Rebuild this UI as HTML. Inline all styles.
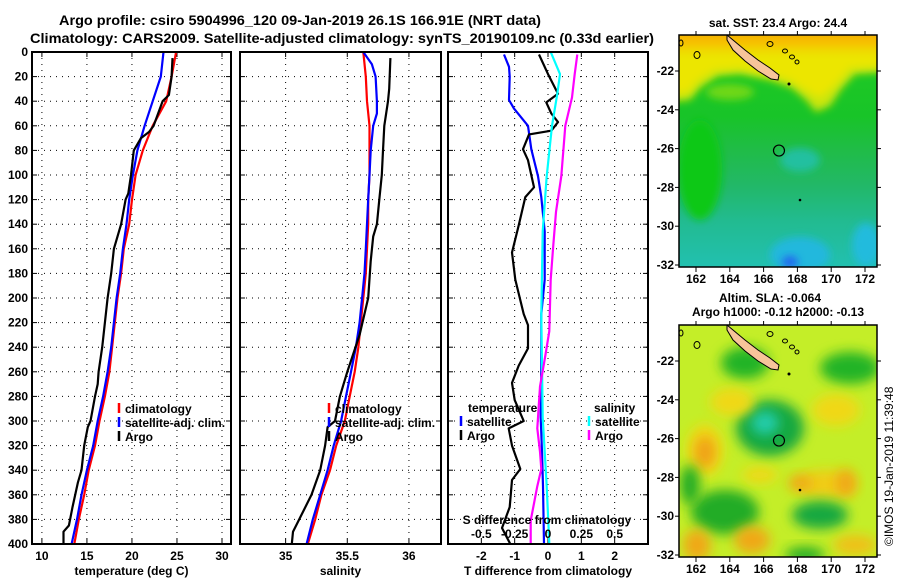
<!DOCTYPE html>
<html><head><meta charset="utf-8"><style>
html,body{margin:0;padding:0;background:#fff;}
svg{display:block;font-family:"Liberation Sans",sans-serif;}
.t{font-weight:bold;font-size:12px;fill:#000;}
</style></head><body>
<svg id="c" width="900" height="580" viewBox="0 0 900 580">
<defs>
<linearGradient id="sstg" x1="0" y1="0" x2="0" y2="1">
<stop offset="0" stop-color="#22cc22"/><stop offset="0.35" stop-color="#18c428"/>
<stop offset="0.5" stop-color="#20bc48"/><stop offset="0.65" stop-color="#22b868"/>
<stop offset="0.8" stop-color="#22bb90"/><stop offset="1" stop-color="#22c0b0"/>
</linearGradient>
<linearGradient id="orangeg" x1="0" y1="0" x2="0" y2="1">
<stop offset="0" stop-color="#f4a400"/><stop offset="0.5" stop-color="#f6c400"/>
<stop offset="1" stop-color="#ecdc00" stop-opacity="0"/>
</linearGradient>
<filter id="bl" x="-50%" y="-50%" width="200%" height="200%"><feGaussianBlur stdDeviation="6"/></filter>
<filter id="bl2" x="-50%" y="-50%" width="200%" height="200%"><feGaussianBlur stdDeviation="4"/></filter>
<clipPath id="m1c"><rect x="679" y="35" width="198" height="232"/></clipPath>
<clipPath id="m2c"><rect x="679" y="325" width="198" height="232"/></clipPath>
</defs>
<text x="300" y="25" text-anchor="middle" font-weight="bold" font-size="14" textLength="482" lengthAdjust="spacingAndGlyphs">Argo profile: csiro 5904996_120 09-Jan-2019 26.1S 166.91E (NRT data)</text>
<text x="342" y="43" text-anchor="middle" font-weight="bold" font-size="14" textLength="624" lengthAdjust="spacingAndGlyphs">Climatology: CARS2009. Satellite-adjusted climatology: synTS_20190109.nc (0.33d earlier)</text>
<g id="root"></g>
</svg>
<script>
// ---- data ----
const depthTicks = [0,20,40,60,80,100,120,140,160,180,200,220,240,260,280,300,320,340,360,380,400];
const tempTicks = [10,15,20,25,30];
const salTicks = [35,35.5,36];
const salTickLabels = ["35","35.5","36"];
const diffTicks = [-2,-1,0,1,2];
const sdiffTicks = [-0.5,-0.25,0,0.25,0.5];
const sdiffTickLabels = ["-0.5","-0.25","0","0.25","0.5"];

const stdDepths = [0,20,40,60,80,100,120,140,160,180,200,220,240,260,280,300,320,340,360,380,400];
const tempClim = [24.9,24.4,23.8,22.3,21.2,20.4,20.0,19.7,19.1,18.8,18.4,18.1,17.8,17.5,17.0,16.4,15.9,15.2,14.7,14.1,13.6];
const tempSat = [23.5,23.2,22.3,21.4,20.6,20.1,19.7,19.4,19.0,18.7,18.3,18.0,17.7,17.3,16.8,16.2,15.7,15.0,14.4,13.9,13.3];
const argoTDepths = [5,20,35,40,50,60,65,70,80,100,115,120,140,155,160,180,200,220,240,260,270,280,300,305,320,340,350,370,385,390,400];
const argoTemp = [24.5,24.4,24.1,23.4,22.9,22.4,21.9,21.0,20.2,19.9,19.6,19.3,18.8,18.2,18.0,17.7,17.3,17.0,16.7,16.3,16.2,15.9,15.4,15.1,14.7,14.4,14.0,13.4,13.0,12.4,12.4];

const salClim = [35.63,35.65,35.66,35.68,35.68,35.68,35.67,35.67,35.66,35.65,35.63,35.61,35.59,35.56,35.52,35.48,35.41,35.36,35.29,35.24,35.18];
const salSatDepths = [0,10,20,40,50,60,80,100,120,140,160,180,200,220,240,260,280,300,320,340,360,380,400];
const salSat = [35.63,35.70,35.73,35.74,35.74,35.71,35.69,35.68,35.67,35.66,35.65,35.64,35.62,35.60,35.57,35.53,35.49,35.45,35.39,35.34,35.28,35.22,35.17];
const argoSDepths = [5,30,40,60,80,100,120,140,150,170,200,230,260,270,280,300,305,320,340,360,380,390,400];
const argoSal = [35.85,35.84,35.83,35.80,35.79,35.78,35.76,35.74,35.71,35.69,35.67,35.60,35.50,35.47,35.44,35.40,35.34,35.32,35.28,35.21,35.11,35.06,35.05];

const tSatDiffDepths = [2,12,20,39,46,60,79,101,118,146,185,213,269,297,325,353,400];
const tSatDiff = [-1.32,-1.17,-1.15,-1.17,-1.02,-0.6,-0.5,-0.3,-0.2,-0.1,-0.1,-0.2,-0.2,-0.22,-0.18,-0.15,-0.12];
const tArgoDiffDepths = [2,18,34,41,50,57,64,67,79,88,110,118,141,163,185,213,222,241,255,269,283,300,306,320,339,348,370,387,400];
const tArgoDiff = [-0.27,0,0.3,-0.05,0.1,0.3,0.1,-0.57,-0.75,-0.6,-0.42,-0.68,-0.88,-1.08,-0.98,-0.73,-0.6,-0.6,-0.88,-1.08,-1.0,-0.73,-1.18,-1.08,-0.83,-1.08,-1.15,-1.38,-1.13];
const sSatDiffDepths = [0,18,34,60,101,146,213,297,353,400];
const sSatDiff = [0.02,0.09,0.07,0.03,-0.01,-0.04,-0.05,-0.04,-0.01,0.01];
const sArgoDiffDepths = [2,18,37,60,101,130,157,185,227,247,272,306,325,339,353,381,400];
const sArgoDiff = [0.22,0.2,0.18,0.13,0.1,0.06,0.04,0.02,0.01,-0.02,-0.06,-0.08,-0.06,-0.05,-0.08,-0.13,-0.13];

const lonTicks = [162,164,166,168,170,172];
const latTicks = [-22,-24,-26,-28,-30,-32];

// ---- layout ----
const NS = "http://www.w3.org/2000/svg";
const root = document.getElementById('root');
const Y0 = 52, Y1 = 544;
const yD = d => Y0 + (d/400)*(Y1-Y0);
const P1 = {x0:32, x1:231, lo:8.9, hi:31.0};
const P2 = {x0:240, x1:441, lo:34.63, hi:36.26};
const P3 = {x0:448, x1:648, lo:-3, hi:3};
const xS = (p,v) => p.x0 + (v-p.lo)/(p.hi-p.lo)*(p.x1-p.x0);
const xSd = v => xS(P3, v*4);

function mk(tag, attrs, parent){
  const e = document.createElementNS(NS, tag);
  for (const k in attrs) e.setAttribute(k, attrs[k]);
  (parent||root).appendChild(e);
  return e;
}
function txt(x,y,s,anchor,cls,parent){
  const e = mk('text',{x:x,y:y,'text-anchor':anchor||'middle','class':cls||'t'},parent);
  e.textContent = s;
  return e;
}

function panel(p, name, xticks, xlabels, xtitle, showY){
  const g = mk('g',{});
  
  
  depthTicks.forEach(d=>{
    const l = mk('line',{x1:p.x0,x2:p.x1,y1:yD(d),y2:yD(d),stroke:'#000','stroke-width':1,'stroke-dasharray':'1,5'},g);
    
    
    mk('line',{x1:p.x0,x2:p.x0+5,y1:yD(d),y2:yD(d),stroke:'#000'},g);
    mk('line',{x1:p.x1,x2:p.x1-5,y1:yD(d),y2:yD(d),stroke:'#000'},g);
    if (showY){
      const t = txt(28, yD(d)+4, String(d), 'end', 't', g);
      
      
    }
  });
  xticks.forEach((v,i)=>{
    const x = xS(p,v);
    const l = mk('line',{x1:x,x2:x,y1:Y0,y2:Y1,stroke:'#000','stroke-width':1,'stroke-dasharray':'1,5'},g);
    
    
    mk('line',{x1:x,x2:x,y1:Y1,y2:Y1-5,stroke:'#000'},g);
    mk('line',{x1:x,x2:x,y1:Y0,y2:Y0+5,stroke:'#000'},g);
    const t = txt(x, 560, xlabels[i], 'middle', 't', g);
    
    
  });
  const tt = txt((p.x0+p.x1)/2, 575, xtitle, 'middle', 't', g);
  
  
  return g;
}
function frame(p,g){
  const r = mk('rect',{x:p.x0,y:Y0,width:p.x1-p.x0,height:Y1-Y0,fill:'none',stroke:'#000','stroke-width':2},g);
  
  
}
function series(g, depths, vals, xf, color, name){
  const pts = depths.map((d,i)=> xf(vals[i]).toFixed(1)+','+yD(d).toFixed(1)).join(' ');
  const l = mk('polyline',{points:pts,fill:'none',stroke:color,'stroke-width':2.2,'stroke-linejoin':'round'},g);
  
  
}
function legendEntry(g,x,y,color,label,name){
  const e = mk('g',{},g);
  
  
  mk('line',{x1:x,x2:x,y1:y-10,y2:y,stroke:color,'stroke-width':2.5},e);
  txt(x+6,y,label,'start','t',e);
}

// Panel 1 temperature
const g1 = panel(P1,'temperature-panel',tempTicks,tempTicks.map(String),'temperature (deg C)',true);
series(g1, stdDepths, tempClim, v=>xS(P1,v), '#f00', 'climatology-temperature-line');
series(g1, stdDepths, tempSat, v=>xS(P1,v), '#00f', 'satellite-temperature-line');
series(g1, argoTDepths, argoTemp, v=>xS(P1,v), '#000', 'argo-temperature-line');
legendEntry(g1,119,413,'#f00','climatology','legend-climatology');
legendEntry(g1,119,427,'#00f','satellite-adj. clim.','legend-satellite');
legendEntry(g1,119,441,'#000','Argo','legend-argo');
frame(P1,g1);

// Panel 2 salinity
const g2 = panel(P2,'salinity-panel',salTicks,salTickLabels,'salinity',false);
series(g2, stdDepths, salClim, v=>xS(P2,v), '#f00', 'climatology-salinity-line');
series(g2, salSatDepths, salSat, v=>xS(P2,v), '#00f', 'satellite-salinity-line');
series(g2, argoSDepths, argoSal, v=>xS(P2,v), '#000', 'argo-salinity-line');
legendEntry(g2,329,413,'#f00','climatology','legend-climatology');
legendEntry(g2,329,427,'#00f','satellite-adj. clim.','legend-satellite');
legendEntry(g2,329,441,'#000','Argo','legend-argo');
frame(P2,g2);

// Panel 3 differences
const g3 = panel(P3,'difference-panel',diffTicks,diffTicks.map(String),'T difference from climatology',false);
series(g3, tSatDiffDepths, tSatDiff, v=>xS(P3,v), '#00f', 'satellite-t-diff-line');
series(g3, tArgoDiffDepths, tArgoDiff, v=>xS(P3,v), '#000', 'argo-t-diff-line');
series(g3, sSatDiffDepths, sSatDiff, xSd, '#00ffff', 'satellite-s-diff-line');
series(g3, sArgoDiffDepths, sArgoDiff, xSd, '#ff00ff', 'argo-s-diff-line');
const lt = txt(468,412,'temperature','start','t',g3);


legendEntry(g3,461,426,'#00f','satellite','legend-t-satellite');
legendEntry(g3,461,440,'#000','Argo','legend-t-argo');
const ls = txt(594,412,'salinity','start','t',g3);


legendEntry(g3,589,426,'#00ffff','satellite','legend-s-satellite');
legendEntry(g3,589,440,'#ff00ff','Argo','legend-s-argo');
const st = txt(547,524,'S difference from climatology','middle','t',g3);


sdiffTicks.forEach((v,i)=>{
  const t = txt(xSd(v),538,sdiffTickLabels[i],'middle','t',g3);
  
  
});
frame(P3,g3);

// ---- maps ----
const MX0=679, MX1=877;
const lonX = lon => 696 + (lon-162)*16.9;
const latY = (lat,off) => off + 71 + (-22-lat)*19.4;
function mapAxes(g, off){
  lonTicks.forEach(l=>{
    mk('line',{x1:lonX(l),x2:lonX(l),y1:off+267,y2:off+272,stroke:'#000'},g);
    mk('line',{x1:lonX(l),x2:lonX(l),y1:off+35,y2:off+31,stroke:'#000'},g);
    const t = txt(lonX(l),off+283,String(l),'middle','t',g);
    
    
  });
  latTicks.forEach(l=>{
    mk('line',{x1:MX1,x2:MX1+4,y1:latY(l,off),y2:latY(l,off),stroke:'#000'},g);
    mk('line',{x1:MX0,x2:MX0-4,y1:latY(l,off),y2:latY(l,off),stroke:'#000'},g);
    const t = txt(674,latY(l,off)+4,String(l),'end','t',g);
    
    
  });
}
function island(g, off){
  const pts = [[727,35],[733,40],[745,50],[758,60],[770,68],[779,75],[778,80],[771,79],[758,71],[745,61],[733,50],[727,40]];
  const p = mk('polygon',{points:pts.map(q=>q[0]+','+(q[1]+off)).join(' '),fill:'#f7c49a',stroke:'#000','stroke-width':1},g);
  
  
  [[770,44,3,2.5],[785,51,2.5,2],[792,57,2.5,2],[797,62,2,2],[697,55,3,3.5],[681,43,2,3]].forEach(q=>{
    mk('ellipse',{cx:q[0],cy:q[1]+off,rx:q[2],ry:q[3],fill:'none',stroke:'#000','stroke-width':1},g);
  });
  mk('circle',{cx:789,cy:84+off,r:1.5,fill:'#000'},g);
  mk('circle',{cx:800,cy:200+off,r:1.3,fill:'#000'},g);
  const c = mk('circle',{cx:lonX(166.91),cy:latY(-26.1,off),r:5.5,fill:'none',stroke:'#000','stroke-width':1.2},g);
  
  
}
// Map 1 SST
const m1 = mk('g',{});


const m1i = mk('g',{'clip-path':'url(#m1c)'},m1);
mk('rect',{x:MX0,y:35,width:198,height:232,fill:'url(#sstg)'},m1i);
mk('polygon',{points:'670,25 885,25 885,72 855,74 842,88 830,106 816,112 806,100 792,88 770,80 740,74 718,76 700,88 690,100 670,102',fill:'#c8e610',filter:'url(#bl2)'},m1i);
mk('polygon',{points:'670,25 885,25 885,66 850,68 835,85 820,98 806,90 790,80 770,74 740,68 715,70 698,80 688,92 670,94',fill:'#ece600',filter:'url(#bl2)'},m1i);
mk('rect',{x:670,y:28,width:220,height:32,fill:'url(#orangeg)'},m1i);
mk('ellipse',{cx:730,cy:92,rx:24,ry:8,fill:'#70d818',filter:'url(#bl2)'},m1i);
mk('ellipse',{cx:700,cy:170,rx:22,ry:50,fill:'#10c818',filter:'url(#bl2)'},m1i);
mk('ellipse',{cx:800,cy:160,rx:20,ry:12,fill:'#20c0a0',filter:'url(#bl2)'},m1i);
mk('ellipse',{cx:800,cy:255,rx:30,ry:18,fill:'#22b8dd',filter:'url(#bl2)'},m1i);
mk('ellipse',{cx:790,cy:262,rx:8,ry:6,fill:'#2266ee',filter:'url(#bl2)'},m1i);
mk('ellipse',{cx:866,cy:245,rx:14,ry:22,fill:'#22bbdd',filter:'url(#bl2)'},m1i);
island(m1i,0);
mk('rect',{x:MX0,y:35,width:198,height:232,fill:'none',stroke:'#000','stroke-width':1.5},m1);
mapAxes(m1,0);
const mt1 = txt(778,27,'sat. SST: 23.4 Argo: 24.4','middle','t',m1);



// Map 2 SLA
const m2 = mk('g',{});


const m2i = mk('g',{'clip-path':'url(#m2c)'},m2);
mk('rect',{x:MX0,y:325,width:198,height:232,fill:'#c4ee28'},m2i);
const blobs = [
 [745,363,24,16,'#22b428'],[850,368,30,16,'#22b428'],[770,428,34,28,'#18a840'],[765,423,14,12,'#22ccaa'],
 [732,402,22,14,'#f0d818'],[836,410,24,16,'#f0d818'],[705,450,18,26,'#f0d818'],[705,452,10,16,'#f0a018'],
 [826,484,30,14,'#f0cc18'],[800,483,12,8,'#f0a818'],[846,483,10,14,'#f0a818'],
 [725,512,34,22,'#22ac28'],[820,515,28,14,'#18a840'],[690,485,10,20,'#22ac28'],
 [697,545,14,16,'#f0a818'],[752,540,18,14,'#f0a818'],[855,545,22,10,'#f0c018'],[805,555,20,8,'#22ac28'],
 [760,475,18,8,'#f0d818']
];
blobs.forEach(b=>{ mk('ellipse',{cx:b[0],cy:b[1],rx:b[2],ry:b[3],fill:b[4],filter:'url(#bl)'},m2i); });
island(m2i,290);
mk('rect',{x:MX0,y:325,width:198,height:232,fill:'none',stroke:'#000','stroke-width':1.5},m2);
mapAxes(m2,290);
const mt2 = txt(770,302,'Altim. SLA: -0.064','middle','t',m2);


const mt3 = txt(778,316,'Argo h1000: -0.12 h2000: -0.13','middle','t',m2);


const cr = mk('text',{x:0,y:0,transform:'translate(893,546) rotate(-90)','font-size':12});
cr.textContent = '©IMOS 19-Jan-2019 11:39:48';


</script>
</body></html>
